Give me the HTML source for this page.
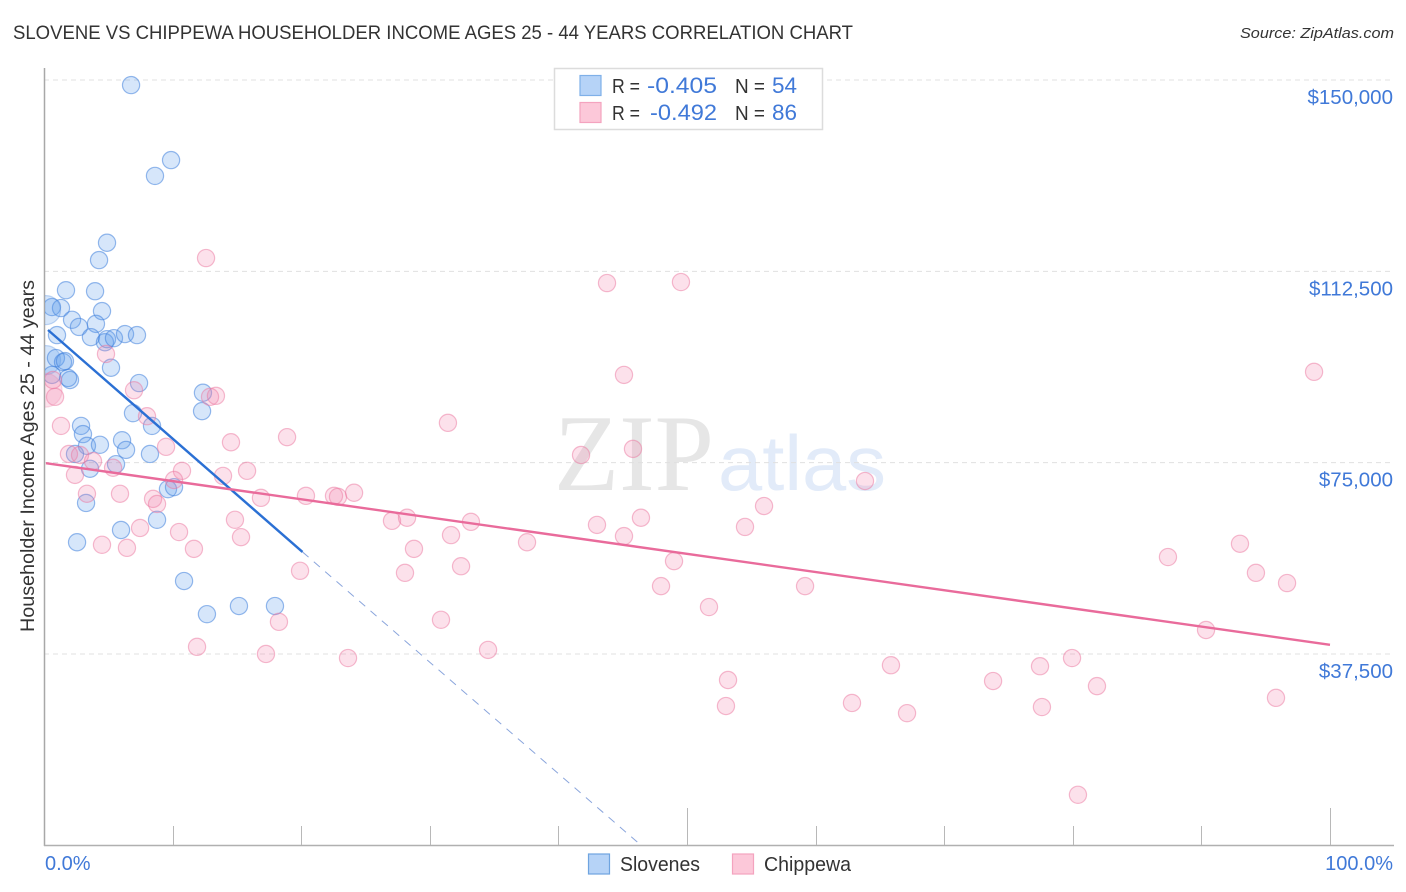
<!DOCTYPE html>
<html>
<head>
<meta charset="utf-8">
<title>Slovene vs Chippewa Householder Income Chart</title>
<style>
html,body{margin:0;padding:0;background:#fff;width:1406px;height:892px;overflow:hidden}
svg{display:block;font-family:"Liberation Sans",sans-serif}
</style>
</head>
<body>
<svg id="chart" width="1406" height="892" viewBox="0 0 1406 892" xmlns="http://www.w3.org/2000/svg">
  <defs>
    <clipPath id="plot-clip"><rect x="45" y="60" width="1355" height="785"/></clipPath>
  </defs>
  <rect x="0" y="0" width="1406" height="892" fill="#ffffff"/>
  <text x="13" y="39" font-size="19" fill="#333" textLength="840" lengthAdjust="spacingAndGlyphs">SLOVENE VS CHIPPEWA HOUSEHOLDER INCOME AGES 25 - 44 YEARS CORRELATION CHART</text>
  <text x="1394" y="38" font-size="15" font-style="italic" fill="#333" text-anchor="end" textLength="154" lengthAdjust="spacingAndGlyphs">Source: ZipAtlas.com</text>
  <g>
    <text x="554" y="490" font-family="'Liberation Serif',serif" font-size="109" fill="#e6e6e6" textLength="160" lengthAdjust="spacingAndGlyphs">ZIP</text>
    <text x="718" y="490" font-family="'Liberation Sans',sans-serif" font-size="78" fill="#e2ebf9" textLength="168" lengthAdjust="spacingAndGlyphs">atlas</text>
  </g>
  <g id="grid"></g>
  <g id="axes"></g>
  <g id="pointsB" clip-path="url(#plot-clip)"></g>
  <g id="pointsA" clip-path="url(#plot-clip)"></g>
  <g id="trends"></g>
  <text transform="translate(34,456) rotate(-90)" font-size="19" fill="#333" text-anchor="middle" textLength="352" lengthAdjust="spacingAndGlyphs">Householder Income Ages 25 - 44 years</text>
  <g>
    <rect x="554.5" y="68.5" width="268" height="61" fill="#fff" stroke="#dcdcdc" stroke-width="1.5"/>
    <rect x="580" y="75.5" width="21" height="20" fill="#b6d3f7" stroke="#7fb0e8" stroke-width="1.2"/>
    <rect x="580" y="102.5" width="21" height="20" fill="#fcc8d9" stroke="#f4a3bf" stroke-width="1.2"/>
    <text x="612" y="93" font-size="20" fill="#333" textLength="28" lengthAdjust="spacingAndGlyphs">R =</text>
    <text x="647" y="93" font-size="22" fill="#4079d8" textLength="70" lengthAdjust="spacingAndGlyphs">-0.405</text>
    <text x="735" y="93" font-size="20" fill="#333" textLength="30" lengthAdjust="spacingAndGlyphs">N =</text>
    <text x="772" y="93" font-size="22" fill="#4079d8" textLength="25" lengthAdjust="spacingAndGlyphs">54</text>
    <text x="612" y="120" font-size="20" fill="#333" textLength="28" lengthAdjust="spacingAndGlyphs">R =</text>
    <text x="650" y="120" font-size="22" fill="#4079d8" textLength="67" lengthAdjust="spacingAndGlyphs">-0.492</text>
    <text x="735" y="120" font-size="20" fill="#333" textLength="30" lengthAdjust="spacingAndGlyphs">N =</text>
    <text x="772" y="120" font-size="22" fill="#4079d8" textLength="25" lengthAdjust="spacingAndGlyphs">86</text>
  </g>
  <g>
    <rect x="588.5" y="854" width="21" height="20" fill="#b6d3f7" stroke="#6fa4e0" stroke-width="1.2"/>
    <text x="620" y="871" font-size="20" fill="#333" textLength="80" lengthAdjust="spacingAndGlyphs">Slovenes</text>
    <rect x="732.5" y="854" width="21" height="20" fill="#fcc8d9" stroke="#f4a3bf" stroke-width="1.2"/>
    <text x="764" y="871" font-size="20" fill="#333" textLength="87" lengthAdjust="spacingAndGlyphs">Chippewa</text>
  </g>
</svg>
<script>
var yTickValues = [150000, 112500, 75000, 37500];
var yTickLabels = ["$150,000", "$112,500", "$75,000", "$37,500"];
var xTickValues = [0, 10, 20, 30, 40, 50, 60, 70, 80, 90, 100];
var xEndLabels = ["0.0%", "100.0%"];

var slovenesX = [6.77,9.88,8.63,4.90,4.28,1.71,3.97,0.62,1.32,4.51,0.16,2.18,4.04,2.72,1.01,3.65,4.74,4.90,5.44,6.30,7.23,0.16,0.93,1.48,1.63,0.62,2.02,1.87,5.21,7.39,6.92,8.40,12.36,12.29,2.88,3.03,3.34,4.35,2.41,6.07,6.38,8.24,5.60,3.58,9.64,10.11,3.27,8.79,5.99,2.57,10.89,12.67,15.16,17.96];
var slovenesY = [149.0,134.3,131.2,118.1,114.7,108.8,108.6,105.5,105.3,104.7,104.9,103.0,102.2,101.6,100.0,99.6,98.6,99.2,99.4,100.2,100.0,95.1,95.5,94.7,94.9,92.2,91.2,91.6,93.6,90.6,84.7,82.2,88.7,85.1,82.2,80.6,78.3,78.5,76.7,79.4,77.5,76.7,74.7,73.8,69.8,70.2,67.1,63.8,61.8,59.4,51.8,45.3,46.9,46.9];
var slovenesLargeIndexes = [10,21];

var chippewaX = [4.82,12.60,43.78,49.53,45.10,98.76,31.41,45.80,41.76,63.84,20.37,22.55,22.86,24.11,27.06,28.23,33.20,31.65,43.00,46.42,45.10,37.56,55.99,54.51,28.77,28.07,32.43,48.99,47.98,59.18,51.71,30.87,34.53,23.64,87.40,93.00,94.24,96.66,90.36,53.19,53.03,65.86,62.83,67.11,73.80,77.45,79.94,81.88,77.60,95.80,80.40,0.08,0.86,0.70,1.32,1.94,2.80,3.81,2.41,5.37,3.34,5.91,7.00,8.01,9.49,10.73,10.11,8.48,8.79,7.47,4.51,6.45,10.50,11.66,12.91,13.37,14.54,18.90,13.92,15.79,16.87,14.85,15.32,19.91,11.90,17.26,18.27];
var chippewaY = [96.3,115.1,110.2,110.4,92.2,92.8,82.8,77.7,76.5,71.4,68.5,68.5,68.3,69.1,63.6,64.2,63.4,60.8,62.8,64.2,60.6,59.4,66.5,62.4,58.1,53.4,54.7,55.7,50.8,50.8,46.7,44.2,38.3,36.7,56.5,59.1,53.4,51.4,42.2,32.4,27.3,35.3,27.9,25.9,32.2,35.1,36.7,31.2,27.1,28.9,9.9,89.2,87.9,91.2,82.2,76.7,76.5,75.3,72.6,74.0,68.9,68.9,89.2,84.1,78.1,73.4,71.6,67.9,66.9,62.2,58.9,58.3,61.4,58.1,87.9,88.1,79.0,80.0,72.4,73.4,68.1,63.8,60.4,53.8,38.9,37.5,43.8];
var chippewaLargeIndexes = [51];

var slovenesTrendX = [0.31, 20.1];
var slovenesTrendY = [101.0, 57.5];
var slovenesExtensionX = [20.1, 46.4];
var slovenesExtensionY = [57.5, 0.06];
var chippewaTrendX = [0.15, 100];
var chippewaTrendY = [74.9, 39.3];

var NS = 'http://www.w3.org/2000/svg';
function xPos(pct) { return 44 + (pct / 100) * 1286; }
function yPos(k) { return 80 + (150 - k) * 5.102; }
function make(tag, parentId) {
  var el = document.createElementNS(NS, tag);
  document.getElementById(parentId).appendChild(el);
  return el;
}
function setLine(el, x1, y1, x2, y2, stroke, width) {
  el.setAttribute('x1', x1);
  el.setAttribute('y1', y1);
  el.setAttribute('x2', x2);
  el.setAttribute('y2', y2);
  el.setAttribute('stroke', stroke);
  el.setAttribute('stroke-width', width);
}

yTickValues.forEach(function (v, i) {
  var y = yPos(v / 1000);
  var g = make('line', 'grid');
  
  
  setLine(g, 44, y, 1394, y, '#e0e0e0', 1);
  g.setAttribute('stroke-dasharray', '5 4');
  var t = make('text', 'axes');
  
  
  t.setAttribute('x', 1393);
  t.setAttribute('y', y + 24);
  t.setAttribute('font-size', '20.5');
  t.setAttribute('fill', '#4079d8');
  t.setAttribute('text-anchor', 'end');
  t.textContent = yTickLabels[i];
});

var yAxis = make('line', 'axes');


setLine(yAxis, 44.5, 68, 44.5, 846, '#a8a8a8', 1.5);
var xAxis = make('line', 'axes');


setLine(xAxis, 44, 845.5, 1394, 845.5, '#b0b0b0', 1.5);

xTickValues.forEach(function (v) {
  if (v === 0) { return; }
  var x = Math.round(xPos(v)) + 0.5;
  var tall = (v === 50 || v === 100);
  var k = make('line', 'axes');
  
  
  setLine(k, x, tall ? 808 : 826, x, 845, '#b8b8b8', 1);
});

xEndLabels.forEach(function (label, i) {
  var t = make('text', 'axes');
  
  
  t.setAttribute('x', i === 0 ? 45 : 1393);
  t.setAttribute('y', 870);
  t.setAttribute('font-size', '20');
  t.setAttribute('fill', '#4079d8');
  t.setAttribute('text-anchor', i === 0 ? 'start' : 'end');
  t.textContent = label;
});

slovenesX.forEach(function (v, i) {
  var big = slovenesLargeIndexes.indexOf(i) >= 0;
  var c = make('circle', 'pointsB');
  
  
  c.setAttribute('cx', xPos(v));
  c.setAttribute('cy', yPos(slovenesY[i]));
  c.setAttribute('r', big ? 14.5 : 8.6);
  c.setAttribute('fill', 'rgba(90,155,235,0.25)');
  c.setAttribute('stroke', big ? 'rgba(65,130,220,0.3)' : 'rgba(65,130,220,0.55)');
  c.setAttribute('stroke-width', '1.2');
});

chippewaX.forEach(function (v, i) {
  var big = chippewaLargeIndexes.indexOf(i) >= 0;
  var c = make('circle', 'pointsA');
  
  
  c.setAttribute('cx', xPos(v));
  c.setAttribute('cy', yPos(chippewaY[i]));
  c.setAttribute('r', big ? 17 : 8.6);
  c.setAttribute('fill', 'rgba(244,130,170,0.24)');
  c.setAttribute('stroke', big ? 'rgba(235,120,160,0.25)' : 'rgba(235,120,160,0.5)');
  c.setAttribute('stroke-width', '1.2');
});

var ext = make('line', 'trends');


setLine(ext, xPos(slovenesExtensionX[0]), yPos(slovenesExtensionY[0]), xPos(slovenesExtensionX[1]), yPos(slovenesExtensionY[1]), '#8aa5dc', 1);
ext.setAttribute('stroke-dasharray', '8 7');

var tb = make('line', 'trends');


setLine(tb, xPos(slovenesTrendX[0]), yPos(slovenesTrendY[0]), xPos(slovenesTrendX[1]), yPos(slovenesTrendY[1]), '#2b70d4', 2.4);

var tp = make('line', 'trends');


setLine(tp, xPos(chippewaTrendX[0]), yPos(chippewaTrendY[0]), xPos(chippewaTrendX[1]), yPos(chippewaTrendY[1]), '#e96b9b', 2.4);
</script>
</body>
</html>
